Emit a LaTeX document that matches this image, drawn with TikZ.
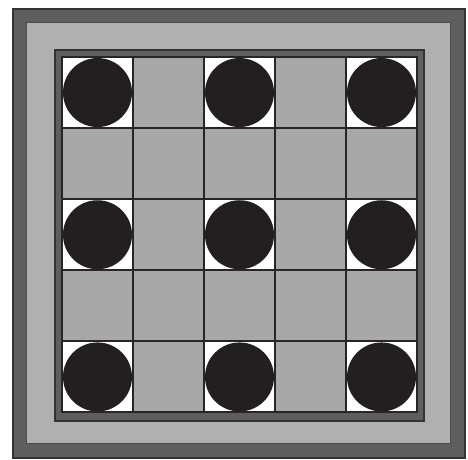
\documentclass[tikz,border=0pt]{standalone}
\usepackage{xcolor}
\usetikzlibrary{backgrounds}

\definecolor{rimgray}{HTML}{5E5E5E}
\definecolor{bandgray}{HTML}{B0B0B0}
\definecolor{boardgray}{HTML}{A8A8A8}
\definecolor{discblack}{HTML}{231F20}

\begin{document}
\begin{tikzpicture}[
    x=0.5pt, y=-0.5pt,
    rim/.style={fill=rimgray, draw=black!80, line width=0.8pt},
    band/.style={fill=bandgray, draw=black!70, line width=0.5pt},
    cell/.style={fill=boardgray, draw=black!85, line width=1pt},
    hole/.style={fill=white, draw=black!85, line width=1pt},
    disc/.style={fill=discblack},
]
\useasboundingbox (0,0) rectangle (468,460);

% =====================================================================
% Frame: dark rim, light band, inner dark border
% =====================================================================
\fill[rim] (13,9) rectangle (465,458);
\filldraw[band] (27,23) rectangle (451,444);
\filldraw[rim] (55,50) rectangle (424,421);

% =====================================================================
% 5x5 board: white holes with discs on even rows and columns
% =====================================================================
\foreach \i in {0,...,4} {
    \foreach \j in {0,...,4} {
        \pgfmathsetmacro{\xa}{62+71*\i}
        \pgfmathsetmacro{\ya}{57+71.1*\j}
        \pgfmathtruncatemacro{\odd}{mod(\i,2)+mod(\j,2)}
        \ifnum\odd=0
            \draw[hole] (\xa,\ya) rectangle ++(71,71.1);
            \fill[disc] (\xa+35.5,\ya+35.55) circle (34.5);
        \else
            \draw[cell] (\xa,\ya) rectangle ++(71,71.1);
        \fi
    }
}

\end{tikzpicture}
\end{document}
